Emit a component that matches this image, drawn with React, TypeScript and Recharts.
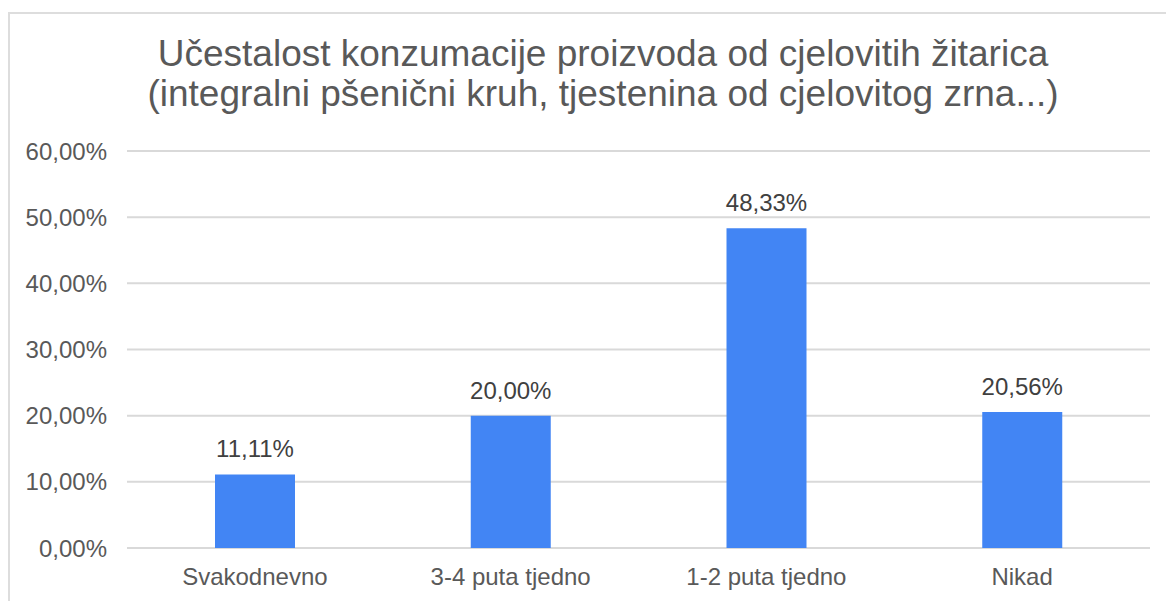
import React from "react";
import { BarChart, Bar, XAxis, YAxis, CartesianGrid, LabelList } from "recharts";

const categories = ["Svakodnevno", "3-4 puta tjedno", "1-2 puta tjedno", "Nikad"];
const values = [0.1111, 0.2, 0.4833, 0.2056];
const yTicks = [0, 0.1, 0.2, 0.3, 0.4, 0.5, 0.6];
const titleLines = [
  "Učestalost konzumacije proizvoda od cjelovitih žitarica",
  "(integralni pšenični kruh, tjestenina od cjelovitog zrna...)",
];

const data = categories.map((name, i) => ({ name, value: values[i] }));

const fmt = (v: number) => (v * 100).toFixed(2).replace(".", ",") + "%";

const FONT = "'Liberation Sans', Arial, sans-serif";

export default function App() {
  return (
    <div
      style={{
        position: "fixed",
        left: 0,
        top: 0,
        width: 1166,
        height: 601,
        overflow: "hidden",
        background: "#ffffff",
        fontFamily: FONT,
      }}
    >
      <div
        style={{
          position: "absolute",
          left: 8,
          top: 12,
          width: 1200,
          height: 700,
          border: "2px solid #dddddd",
          boxSizing: "border-box",
        }}
      />
      <svg
        width={1166}
        height={130}
        style={{ position: "absolute", left: 0, top: 0 }}
      >
        {titleLines.map((t, i) => (
          <text
            key={i}
            x={603}
            y={66 + i * 40}
            textAnchor="middle"
            fontFamily={FONT}
            fontSize={37}
            fill="#595959"
          >
            {t}
          </text>
        ))}
      </svg>
      <div style={{ position: "absolute", left: 0, top: 0 }}>
        <BarChart
          width={1166}
          height={601}
          data={data}
          margin={{ top: 151, right: 16, bottom: 23, left: 0 }}
          barSize={80}
        >
          <CartesianGrid vertical={false} stroke="#d9d9d9" strokeWidth={2} />
          <XAxis
            dataKey="name"
            height={30}
            axisLine={false}
            tickLine={false}
            tickSize={0}
            tickMargin={20}
            interval={0}
            tick={{ fontSize: 24, fill: "#595959", fontFamily: FONT }}
          />
          <YAxis
            width={127}
            domain={[0, 0.6]}
            ticks={yTicks}
            tickFormatter={fmt}
            axisLine={false}
            tickLine={false}
            tickSize={0}
            tickMargin={20}
            tick={{ fontSize: 24, fill: "#595959", fontFamily: FONT }}
          />
          <Bar dataKey="value" fill="#4285F4" isAnimationActive={false}>
            <LabelList
              dataKey="value"
              position="top"
              offset={17}
              formatter={(v: any) => fmt(Number(v))}
              style={{ fontSize: 24, fill: "#404040", fontFamily: FONT }}
            />
          </Bar>
        </BarChart>
      </div>
    </div>
  );
}
